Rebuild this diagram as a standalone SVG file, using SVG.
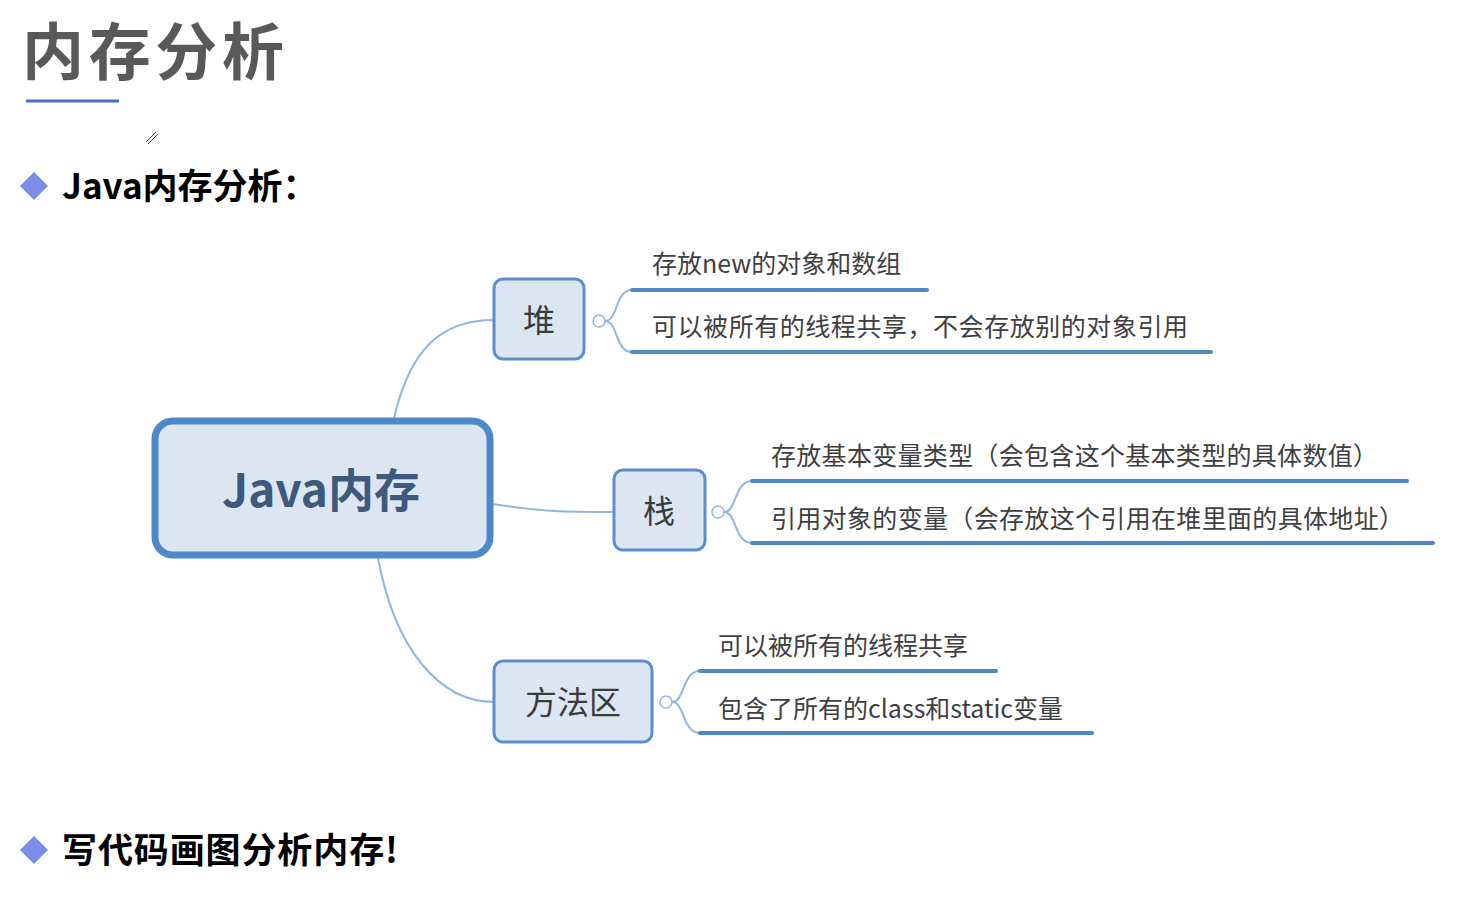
<svg xmlns="http://www.w3.org/2000/svg" width="1465" height="907" viewBox="0 0 1465 907">
<defs>
<style>
.cjk{font-family:"Noto Sans CJK SC","Noto Sans",sans-serif}
.title{font-size:62px;font-weight:700;fill:#595959}
.head{font-size:35px;font-weight:700;fill:#000}
.topic{fill:#dce6f2;stroke:#5b8fcc;stroke-width:3}
.tlabel{font-size:32px;fill:#3a3a3a;text-anchor:middle}
.leaf{font-size:25px;fill:#3f3f3f}
.under{stroke:#4f88c8;stroke-width:4;stroke-linecap:round}
.conn{fill:none;stroke:#92b6de;stroke-width:2}
.coll{fill:#fff;stroke:#92b6de;stroke-width:1.5}
.bullet{fill:#7b8ee8}
</style>
<filter id="sh" x="-20%" y="-200%" width="140%" height="500%"><feGaussianBlur stdDeviation="2"/></filter>
</defs>
<rect width="1465" height="907" fill="#fff"/>
<g id="title">
<text class="cjk title" x="22" y="75" textLength="262">内存分析</text>
<line x1="28" y1="106" x2="122" y2="106" stroke="#aaa" stroke-width="4" filter="url(#sh)"/>
<line x1="26" y1="101" x2="119" y2="101" stroke="#4a6cd0" stroke-width="3"/>
<path d="M146,142 L156,132 M148,144 L158,134" stroke="#444" stroke-width="1" fill="none"/>
</g>
<g id="heading1">
<polygon class="bullet" points="34,172 48,186 34,200 20,186"/>
<text class="cjk head" x="62" y="199">Java内存分析：</text>
</g>
<g id="heading2">
<polygon class="bullet" points="34,836 48,850 34,864 20,850"/>
<text class="cjk head" x="62" y="863" font-size="36" textLength="336">写代码画图分析内存!</text>
</g>
<g id="connectors">
<path class="conn" d="M394,418 C410,350 440,320 494,320"/>
<path class="conn" d="M492,504 C545,512 565,512 614,512"/>
<path class="conn" d="M378,558 C395,650 440,702 494,702"/>
<path class="conn" d="M605,321 C618,321 615,290 632,290 M605,321 C618,321 615,352 632,352"/>
<path class="conn" d="M724,512 C737,512 734,481 752,481 M724,512 C737,512 734,543 752,543"/>
<path class="conn" d="M672,702 C685,702 682,671 700,671 M672,702 C685,702 682,733 700,733"/>
</g>
<g id="root">
<rect x="155" y="421" width="335" height="134" rx="18" fill="#dce6f2" stroke="#4f88c8" stroke-width="7"/>
<text class="cjk" x="321" y="507" font-size="46" font-weight="700" fill="#3d5a7d" text-anchor="middle">Java内存</text>
</g>
<g id="heap">
<rect class="topic" x="494" y="279" width="90" height="80" rx="9"/>
<text class="cjk tlabel" x="539" y="332">堆</text>
<circle class="coll" cx="599" cy="321" r="6"/>
<text class="cjk leaf" x="652" y="273">存放new的对象和数组</text>
<line class="under" x1="632" y1="290" x2="927" y2="290"/>
<text class="cjk leaf" x="652" y="336" textLength="536">可以被所有的线程共享，不会存放别的对象引用</text>
<line class="under" x1="632" y1="352" x2="1211" y2="352"/>
</g>
<g id="stack">
<rect class="topic" x="614" y="470" width="91" height="80" rx="9"/>
<text class="cjk tlabel" x="659" y="523">栈</text>
<circle class="coll" cx="718" cy="512" r="6"/>
<text class="cjk leaf" x="771" y="465" textLength="607">存放基本变量类型（会包含这个基本类型的具体数值）</text>
<line class="under" x1="752" y1="481" x2="1407" y2="481"/>
<text class="cjk leaf" x="771" y="528" textLength="633">引用对象的变量（会存放这个引用在堆里面的具体地址）</text>
<line class="under" x1="752" y1="543" x2="1433" y2="543"/>
</g>
<g id="method">
<rect class="topic" x="494" y="661" width="158" height="81" rx="9"/>
<text class="cjk tlabel" x="573" y="714" font-size="34">方法区</text>
<circle class="coll" cx="666" cy="702" r="6"/>
<text class="cjk leaf" x="718" y="655">可以被所有的线程共享</text>
<line class="under" x1="700" y1="671" x2="996" y2="671"/>
<text class="cjk leaf" x="718" y="718">包含了所有的class和static变量</text>
<line class="under" x1="700" y1="733" x2="1092" y2="733"/>
</g>
</svg>
